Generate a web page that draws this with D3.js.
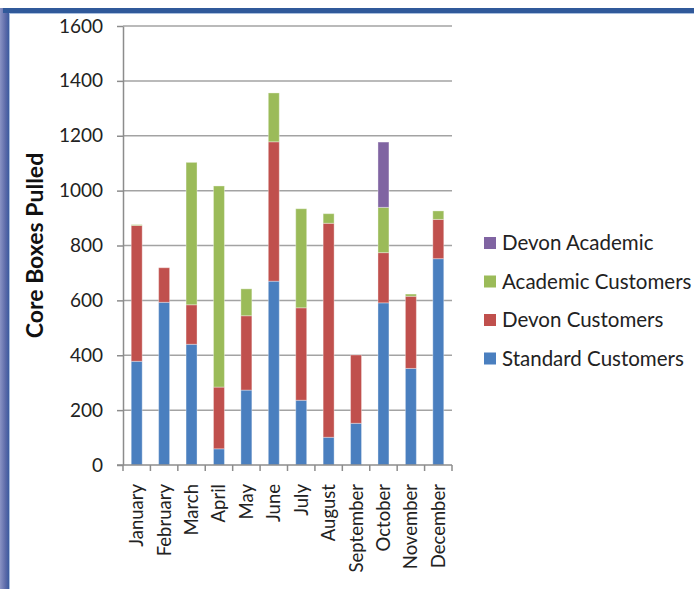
<!DOCTYPE html>
<html>
<head>
<meta charset="utf-8">
<script src="https://cdn.jsdelivr.net/npm/d3@7"></script>
<style>
  html, body { margin: 0; padding: 0; background: #fff; }
  svg { display: block; font-family: Lato, "Open Sans", sans-serif; }
</style>
</head>
<body>
<svg id="chart" width="694" height="589"></svg>
<script>
// Monthly core box pulls, stacked by customer group
const months = ["January","February","March","April","May","June","July","August","September","October","November","December"];
const standardCustomers = [378, 593, 440, 59, 273, 670, 236, 101, 152, 591, 352, 752];
const devonCustomers    = [495, 126, 144, 225, 271, 508, 337, 780, 249, 183, 263, 143];
const academicCustomers = [3, 0, 519, 733, 98, 178, 361, 35, 0, 165, 8, 31];
const devonAcademic     = [0, 0, 0, 0, 0, 0, 0, 0, 0, 238, 0, 0];
const yTicks = [0, 200, 400, 600, 800, 1000, 1200, 1400, 1600];

const seriesNames  = ["Standard Customers", "Devon Customers", "Academic Customers", "Devon Academic"];
const seriesValues = [standardCustomers, devonCustomers, academicCustomers, devonAcademic];
const seriesColors = ["#4a7fbf", "#c0504d", "#9bbb59", "#8064a2"];

const svg = d3.select("#chart");

// Frame: shaded left edge and top rule
const shade = svg.append("defs").append("linearGradient").attr("id", "edgeShade")
  .attr("x1", 0).attr("x2", 1).attr("y1", 0).attr("y2", 0);
shade.append("stop").attr("offset", "0%").attr("stop-color", "#8a93c4");
shade.append("stop").attr("offset", "60%").attr("stop-color", "#5d6ba9");
shade.append("stop").attr("offset", "100%").attr("stop-color", "#3b5a9e");
svg.append("rect").attr("x", 0).attr("y", 8).attr("width", 9).attr("height", 581).attr("fill", "url(#edgeShade)");
svg.append("rect").attr("x", 3).attr("y", 8).attr("width", 691).attr("height", 5).attr("fill", "#30599a");
svg.append("rect").attr("x", 9).attr("y", 13).attr("width", 685).attr("height", 1).attr("fill", "#a9bfdf");
svg.append("rect").attr("x", 9).attr("y", 13).attr("width", 1).attr("height", 576).attr("fill", "#a9bfdf");

// Stacked layout
const table = months.map((m, i) => {
  const row = { month: m };
  seriesNames.forEach((s, k) => row[s] = seriesValues[k][i]);
  return row;
});
const stacked = d3.stack().keys(seriesNames)(table);

const plot = { left: 123, right: 452, top: 26, bottom: 465 };

const x = d3.scaleBand().domain(months).range([plot.left, plot.right]).paddingInner(0.6).paddingOuter(0.3);
const xTickScale = d3.scaleBand().domain(months).range([plot.left, plot.right]);
const y = d3.scaleLinear().domain([0, 1600]).range([plot.bottom, plot.top]);

const gridColor = "#a3a3a3";

// Horizontal gridlines
svg.append("g").selectAll("line").data(yTicks.filter(t => t > 0)).join("line")
  .attr("x1", plot.left).attr("x2", plot.right)
  .attr("y1", d => y(d)).attr("y2", d => y(d))
  .attr("stroke", gridColor).attr("stroke-width", 1.5);

// Y axis
const yAxis = svg.append("g").attr("transform", `translate(${plot.left},0)`)
  .call(d3.axisLeft(y).tickValues(yTicks).tickFormat(d3.format("d"))
    .tickSize(6).tickPadding(14).tickSizeOuter(0));
yAxis.select(".domain").attr("stroke", "#8c8c8c").attr("stroke-width", 1.5);
yAxis.selectAll(".tick line").attr("stroke", "#8c8c8c").attr("stroke-width", 1.5);
yAxis.selectAll(".tick text").attr("font-size", "19px").attr("fill", "#222")
  .attr("font-family", "Lato, sans-serif");

// Bars
svg.append("g").selectAll("g").data(stacked).join("g")
  .attr("fill", (d, k) => seriesColors[k])
  .selectAll("rect").data(d => d.filter(p => p[1] - p[0] > 0)).join("rect")
  .attr("x", d => x(d.data.month))
  .attr("width", x.bandwidth())
  .attr("y", d => y(d[1]))
  .attr("height", d => y(d[0]) - y(d[1]))
  .attr("stroke", "rgba(255,255,255,0.35)").attr("stroke-width", 1);

// X axis with category boundaries as ticks
const xAxisG = svg.append("g").attr("transform", `translate(0,${plot.bottom})`);
xAxisG.append("line").attr("x1", plot.left - 6).attr("x2", plot.right)
  .attr("stroke", "#8c8c8c").attr("stroke-width", 1.5);
const boundaries = months.map(m => xTickScale(m)).concat([plot.right]);
xAxisG.selectAll(".bt").data(boundaries).join("line").attr("class", "bt")
  .attr("x1", d => d).attr("x2", d => d).attr("y1", 0).attr("y2", 6)
  .attr("stroke", "#8c8c8c").attr("stroke-width", 1.5);
xAxisG.selectAll("text").data(months).join("text")
  .attr("transform", d => `translate(${x(d) + x.bandwidth() / 2},${19}) rotate(-90)`)
  .attr("text-anchor", "end").attr("dy", "0.35em")
  .attr("font-size", "18.5px").attr("fill", "#222")
  .text(d => d);

// Y axis title
svg.append("text")
  .attr("transform", `translate(35,${(plot.top + plot.bottom) / 2}) rotate(-90)`)
  .attr("text-anchor", "middle").attr("dy", "0.35em")
  .attr("font-size", "23px").attr("font-weight", "bold").attr("fill", "#111")
  .text("Core Boxes Pulled");

// Legend, top entry is the last stacked series
const legendOrder = [3, 2, 1, 0];
const legend = svg.append("g");
const legendRow = d3.scalePoint().domain(legendOrder).range([243, 358.5]);
legendOrder.forEach(k => {
  const row = legend.append("g").attr("transform", `translate(484,${legendRow(k)})`);
  row.append("rect").attr("x", 0).attr("y", -6).attr("width", 12).attr("height", 12).attr("fill", seriesColors[k]);
  row.append("text").attr("x", 18).attr("dy", "0.35em")
    .attr("font-size", "20.5px").attr("fill", "#222").text(seriesNames[k]);
});
</script>
</body>
</html>
